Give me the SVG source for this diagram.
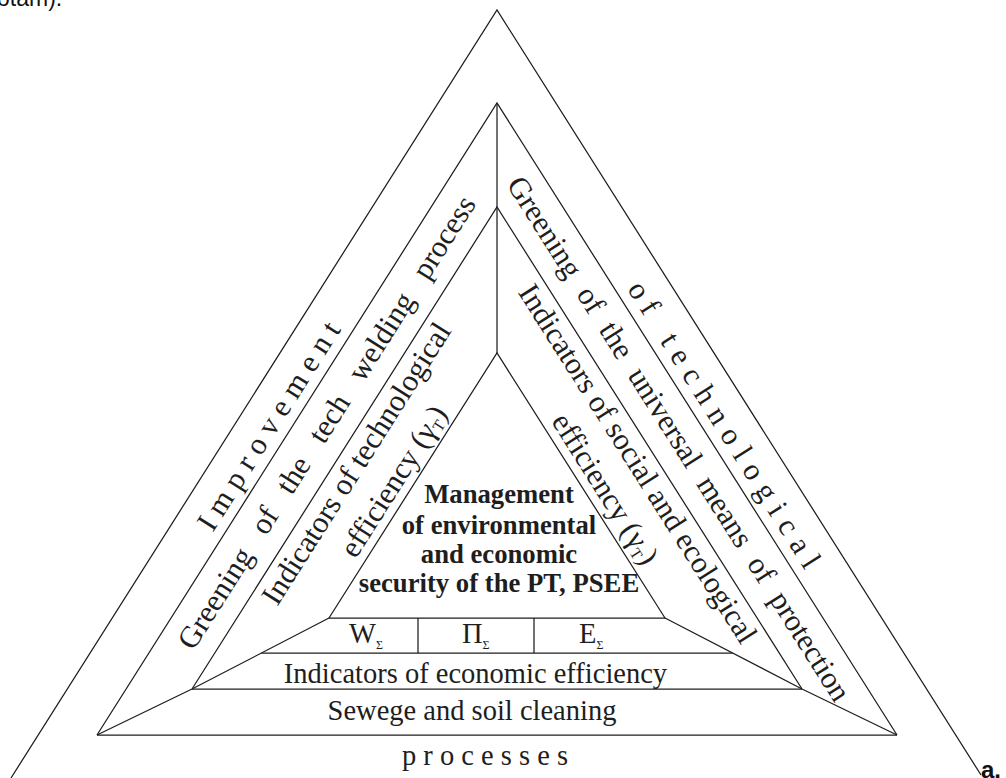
<svg xmlns="http://www.w3.org/2000/svg" width="1006" height="778" viewBox="0 0 1006 778">
<style>
.ln{fill:none;stroke:#1e1e1e;stroke-width:1.25;stroke-linejoin:miter}
.t{font-family:"Liberation Serif","Times New Roman",serif;font-size:28.5px;fill:#1e1e1e}
.r{font-size:30.5px}
.b{font-family:"Liberation Serif","Times New Roman",serif;font-size:26.7px;font-weight:bold;fill:#1e1e1e;text-anchor:middle}
.m{text-anchor:middle}
.sub{font-size:12px}
.s{font-family:"Liberation Sans",Arial,sans-serif;fill:#111}
</style>
<rect width="1006" height="778" fill="#fff"/>
<text class="s" x="-3" y="6" font-size="23">otam).</text>
<text class="s" x="981" y="778" font-size="24" font-weight="bold">a.</text>
<g id="connectors">
<polyline class="ln" points="11,778 497,10 981,775"/>
<polyline class="ln" points="97,735 497,103 897,735"/>
<polyline class="ln" points="192,689 497,207 802,689"/>
<polygon class="ln" points="329,618 497,353 665,618"/>
<line class="ln" x1="497" y1="103" x2="497" y2="353"/>
<polyline class="ln" points="97,735 192,689 329,618"/>
<polyline class="ln" points="897,735 802,689 665,618"/>
<line class="ln" x1="97" y1="735" x2="897" y2="735" stroke-width="1.6"/>
<line class="ln" x1="192" y1="689" x2="802" y2="689"/>
<line class="ln" x1="261.5" y1="653" x2="732.5" y2="653"/>
<line class="ln" x1="418" y1="618" x2="418" y2="653"/>
<line class="ln" x1="534" y1="618" x2="534" y2="653"/>
</g>
<g id="center">
<text class="b" x="499" y="503">Management</text>
<text class="b" x="499" y="534">of environmental</text>
<text class="b" x="499" y="563">and economic</text>
<text class="b" x="499" y="592">security of the PT, PSEE</text>
</g>
<g id="sums" class="t" font-size="27">
<text x="349" y="643">W<tspan class="sub" dy="6">Σ</tspan></text>
<text x="462" y="643">Π<tspan class="sub" dy="6">Σ</tspan></text>
<text x="579" y="643">E<tspan class="sub" dy="6">Σ</tspan></text>
</g>
<g id="bottom">
<text class="t m" x="475.5" y="683">Indicators of economic efficiency</text>
<text class="t m" x="472" y="720">Sewege and soil cleaning</text>
<text class="t m" x="485" y="765">p r o c e s s e s</text>
</g>
<g id="left" transform="translate(497,0) rotate(-57.66)">
<text class="t r m" x="-482" y="45" textLength="241" lengthAdjust="spacing">I m p r o v e m e n t</text>
<text class="t r m" x="-448" y="92" word-spacing="15">Greening of the tech welding process</text>
<text class="t r m" x="-467" y="139">Indicators of technological</text>
<text class="t r m" x="-462" y="180">efficiency (γ<tspan font-size="16" dy="4">T</tspan><tspan dy="-4">)</tspan></text>
</g>
<g id="right" transform="translate(497,0) rotate(57.66)">
<text class="t r m" x="330" y="45">o f</text>
<text class="t r m" x="511" y="45" textLength="272" lengthAdjust="spacing">t e c h n o l o g i c a l</text>
<text class="t r m" x="468" y="91" word-spacing="9">Greening of the universal means of protection</text>
<text class="t r m" x="467" y="139">Indicators of social and ecological</text>
<text class="t r m" x="471" y="180">efficiency (γ<tspan font-size="16" dy="4">T</tspan><tspan dy="-4">)</tspan></text>
</g>
</svg>
